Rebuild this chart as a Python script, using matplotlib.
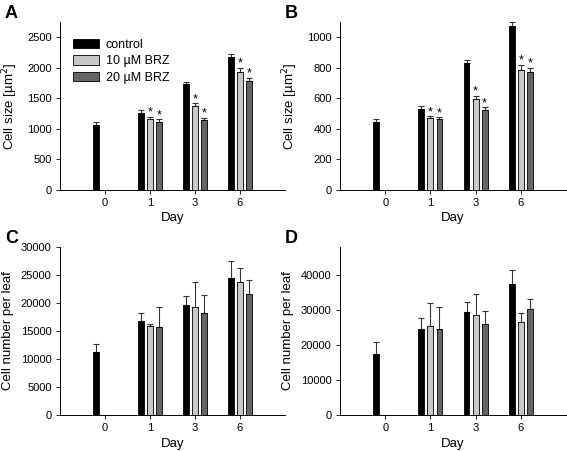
import numpy as np
import matplotlib
matplotlib.use("Agg")
import matplotlib.pyplot as plt

plt.rcParams['font.family'] = ['Liberation Sans', 'DejaVu Sans']

days = ['0', '1', '3', '6']
groups = ['control', '10 µM BRZ', '20 µM BRZ']
colors = ['#000000', '#c8c8c8', '#656565']

# panel A: cell size [µm²] (nan = no bar)
size_a = [[1065, 1265, 1740, 2180],
          [np.nan, 1163, 1376, 1932],
          [np.nan, 1120, 1146, 1785]]
size_a_err = [[45, 38, 28, 45],
              [0, 37, 43, 70],
              [0, 37, 33, 55]]

# panel B: cell size [µm²]
size_b = [[445, 533, 834, 1076],
          [np.nan, 469, 598, 788],
          [np.nan, 463, 526, 771]]
size_b_err = [[18, 15, 15, 24],
              [0, 14, 18, 33],
              [0, 13, 15, 30]]

# panel C: cell number per leaf
num_c = [[11200, 16800, 19600, 24500],
         [np.nan, 15850, 19200, 23750],
         [np.nan, 15700, 18300, 21550]]
num_c_err = [[1450, 1500, 1650, 3000],
             [0, 400, 4550, 2450],
             [0, 3650, 3150, 2600]]

# panel D: cell number per leaf
num_d = [[17500, 24450, 29400, 37450],
         [np.nan, 25400, 28600, 26700],
         [np.nan, 24450, 25950, 30150]]
num_d_err = [[3250, 3250, 2950, 4000],
             [0, 6550, 5900, 2400],
             [0, 6450, 3900, 2950]]

# significance marks (group index, day index) for panels A and B
stars = [(1, 1), (2, 1), (1, 2), (2, 2), (1, 3), (2, 3)]

fig = plt.figure(figsize=(5.67, 4.51), dpi=100)
W, H = 567.0, 451.0


def make_ax(l, r, t, b):
    return fig.add_axes([l / W, 1 - b / H, (r - l) / W, (b - t) / H])


def draw(ax, vals, errs, ylim, yticks, ylabel, letter, star_pad=None, legend=False):
    x = np.arange(len(days))
    width = 0.13
    offs = [-0.2, 0.0, 0.2]
    for g in range(3):
        v = np.array(vals[g], dtype=float)
        e = np.array(errs[g], dtype=float)
        ok = ~np.isnan(v)
        ax.bar(x[ok] + offs[g], v[ok], width, color=colors[g], edgecolor='black',
               linewidth=0.6, label=groups[g], zorder=2)
        ax.errorbar(x[ok] + offs[g], v[ok], yerr=[np.zeros(ok.sum()), e[ok]],
                    fmt='none', ecolor='#333333', elinewidth=0.8, capsize=2.5,
                    capthick=0.8, zorder=1)
    if star_pad is not None:
        for g, d in stars:
            top = vals[g][d] + errs[g][d]
            ax.text(x[d] + offs[g], top + star_pad, '*', ha='center', va='center',
                    fontsize=9)
    ax.set_xlim(-1, 4)
    ax.set_ylim(*ylim)
    ax.set_yticks(yticks)
    ax.set_xticks(x)
    ax.set_xticklabels(days)
    ax.tick_params(labelsize=8, length=3, width=0.6, direction='out', pad=3)
    for s in ['top', 'right']:
        ax.spines[s].set_visible(False)
    for s in ['left', 'bottom']:
        ax.spines[s].set_linewidth(0.7)
    ax.set_xlabel('Day', fontsize=9.5, labelpad=3)
    ax.set_ylabel(ylabel, fontsize=9.5, labelpad=5)
    ax.text(-0.245, 1.10, letter, transform=ax.transAxes, fontsize=13,
            fontweight='bold', va='top', ha='left')
    if legend:
        ax.legend(loc='upper left', bbox_to_anchor=(0.035, 0.93), frameon=False,
                  fontsize=9, handlelength=2.1, handleheight=0.8,
                  labelspacing=0.35, handletextpad=0.55, borderaxespad=0)


ax_a = make_ax(60, 285, 22, 190)
draw(ax_a, size_a, size_a_err, (0, 2750), [0, 500, 1000, 1500, 2000, 2500],
     'Cell size [µm$^2$]', 'A', star_pad=70, legend=True)

ax_b = make_ax(340, 566, 22, 190)
draw(ax_b, size_b, size_b_err, (0, 1100), [0, 200, 400, 600, 800, 1000],
     'Cell size [µm$^2$]', 'B', star_pad=28)

ax_c = make_ax(60, 285, 247, 415)
draw(ax_c, num_c, num_c_err, (0, 30000), [0, 5000, 10000, 15000, 20000, 25000, 30000],
     'Cell number per leaf', 'C')

ax_d = make_ax(340, 566, 247, 415)
draw(ax_d, num_d, num_d_err, (0, 48000), [0, 10000, 20000, 30000, 40000],
     'Cell number per leaf', 'D')

fig.savefig('out.png', dpi=100)
